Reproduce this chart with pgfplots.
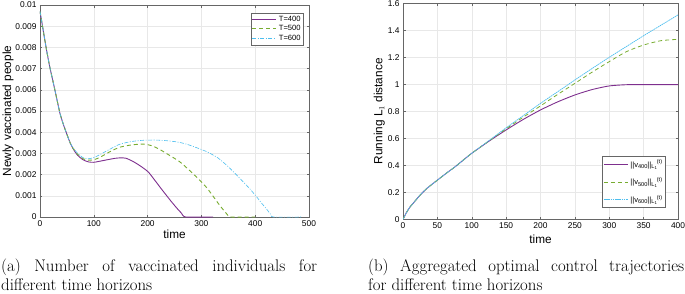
\documentclass[border=0pt]{standalone}
\usepackage{fontspec}
\newfontfamily\arial{Liberation Sans}
\usepackage{pgfplots}
\pgfplotsset{compat=1.18}
\definecolor{mpurple}{HTML}{7E2F8E}
\definecolor{mgreen}{HTML}{77AC30}
\definecolor{mcyan}{HTML}{4DBEEE}
\newcommand\sbs[1]{\raisebox{-0.35ex}{\fontsize{5.6}{6}\selectfont #1}}
\newcommand\sbss[1]{\raisebox{-0.3ex}{\fontsize{4.2}{5}\selectfont #1}}
\newcommand\sps[1]{\raisebox{0.8ex}{\fontsize{5.6}{6}\selectfont #1}}
\newcommand\nrm[1]{\textbar\textbar v\sbs{#1}\textbar\textbar\sbs{L\sbss{1}}\sps{(t)}}
\pgfplotsset{
  mstyle/.style={
    scale only axis,
    axis line style={draw=black!60, line width=0.5pt},
    tick style={draw=black!60, line width=0.5pt},
    major tick length=2.5pt,
    tick align=inside,
    grid=major,
    grid style={draw=black!9, line width=0.5pt},
    /pgf/number format/assume math mode=true,
    tick label style={font=\arial\fontsize{8.4}{10}\selectfont},
    label style={font=\arial\fontsize{11.8}{13}\selectfont},
    scaled y ticks=false,
    yticklabel style={/pgf/number format/fixed, /pgf/number format/precision=3},
    legend cell align=left,
    legend style={draw=black!60, line width=0.5pt, inner sep=1pt},
    legend image code/.code={\draw[##1] (0pt,0pt) -- (24pt,0pt);},
  }
}
\begin{document}
\begin{tikzpicture}[x=1pt,y=1pt]
\useasboundingbox (0,0) rectangle (685,293);
% ---------- left panel ----------
\begin{axis}[mstyle,
  at={(40pt,76pt)}, anchor=south west,
  width=269pt, height=212pt,
  xmin=0, xmax=500, ymin=0, ymax=0.01,
  xtick={0,100,...,500},
  ytick={0,0.001,0.002,0.003,0.004,0.005,0.006,0.007,0.008,0.009,0.01},
  xlabel={time}, ylabel={Newly vaccinated people},
  ylabel style={yshift=-5pt},
  xlabel style={yshift=3pt},
  legend style={at={(0.981,0.964)}, anchor=north east,
    font=\arial\fontsize{7.6}{8.5}\selectfont, row sep=-1.2pt},
]
\addplot[mpurple, line width=0.9pt, smooth, tension=0.4] coordinates {
(0,0.0097) (6,0.0088) (12,0.0079) (18,0.0071) (25,0.0063) (31,0.0056)
(37,0.0049) (43,0.0044) (50,0.0039) (56,0.0035) (62,0.0032) (70,0.00291)
(80,0.00270) (90,0.00260) (100,0.00258) (111,0.00263) (125,0.00270)
(140,0.00277) (150,0.00279) (160,0.00277) (173,0.00262) (187,0.00240)
(201,0.00213) (212,0.00178) (223,0.00141) (235,0.00102) (245,0.00070)
(255,0.00040) (263,0.00018) (271,0) (322,0)};
\addlegendentry{T=400}
\addplot[mgreen, line width=0.9pt, dash pattern=on 4pt off 3pt, smooth, tension=0.4] coordinates {
(0,0.0097) (6,0.0088) (12,0.0079) (18,0.0071) (25,0.0063) (31,0.0056)
(37,0.0049) (43,0.0044) (50,0.0039) (56,0.0035) (62,0.00322) (70,0.00296)
(80,0.00275) (90,0.00268) (100,0.00270) (111,0.00281) (130,0.00308)
(148,0.00329) (170,0.00340) (192,0.00344) (208,0.00336) (223,0.00318)
(240,0.00292) (260,0.00260) (280,0.00215) (297,0.00173) (310,0.00138)
(322,0.00097) (332,0.00062) (341,0.00033) (348,0.00012) (355,0) (400,0)};
\addlegendentry{T=500}
\addplot[mcyan, line width=0.6pt, dash pattern=on 4pt off 1.5pt on 1pt off 1.5pt, smooth, tension=0.4] coordinates {
(0,0.0097) (6,0.0088) (12,0.0079) (18,0.0071) (25,0.0063) (31,0.0056)
(37,0.0049) (43,0.0044) (50,0.0039) (56,0.0035) (62,0.00325) (70,0.00300)
(80,0.00280) (90,0.00275) (100,0.00280) (111,0.00294) (130,0.00320)
(148,0.00343) (170,0.00356) (192,0.00362) (215,0.00363) (235,0.00360)
(255,0.00354) (272,0.00344) (290,0.00328) (310,0.00308) (330,0.00280)
(347,0.00244) (362,0.00207) (378,0.00165) (391,0.00130) (403,0.00094)
(412,0.00065) (421,0.00038) (428,0.00015) (434,0) (486,0)};
\addlegendentry{T=600}
\end{axis}
% ---------- right panel ----------
\begin{axis}[mstyle,
  at={(403pt,73.7pt)}, anchor=south west,
  width=275pt, height=216pt,
  xmin=0, xmax=400, ymin=0, ymax=1.6,
  xtick={0,50,...,400},
  ytick={0,0.2,0.4,0.6,0.8,1,1.2,1.4,1.6},
  xlabel={time}, ylabel={Running L$_1$ distance},
  ylabel style={yshift=-4pt},
  xlabel style={yshift=1pt},
  legend style={at={(0.956,0.293)}, anchor=north east,
    font=\arial\fontsize{7.6}{8.5}\selectfont, row sep=5pt, inner sep=1.5pt},
]
\addplot[mpurple, line width=0.9pt, smooth, tension=0.4] coordinates {
(0,0) (2,0.02) (5,0.05) (10,0.09) (15,0.12) (25,0.18) (35,0.23) (50,0.29)
(64,0.345) (76,0.39) (88,0.44) (100,0.489) (124,0.575) (150,0.662)
(175,0.74) (200,0.81) (225,0.87) (250,0.921) (275,0.961) (300,0.988)
(325,0.997) (350,0.998) (400,0.998)};
\addlegendentry{\nrm{400}}
\addplot[mgreen, line width=0.8pt, dash pattern=on 4pt off 3pt, smooth, tension=0.4] coordinates {
(0,0) (2,0.02) (5,0.05) (10,0.09) (15,0.12) (25,0.18) (35,0.23) (50,0.29)
(64,0.345) (76,0.39) (88,0.44) (100,0.489) (124,0.577) (150,0.670)
(175,0.757) (200,0.84) (225,0.925) (250,1.007) (275,1.09) (300,1.168)
(325,1.242) (350,1.291) (375,1.323) (400,1.333)};
\addlegendentry{\nrm{500}}
\addplot[mcyan, line width=0.7pt, dash pattern=on 1.6pt off 0.6pt, smooth, tension=0.4] coordinates {
(0,0) (2,0.02) (5,0.05) (10,0.09) (15,0.12) (25,0.18) (35,0.23) (50,0.29)
(64,0.345) (76,0.39) (88,0.44) (100,0.489) (124,0.579) (150,0.678)
(175,0.768) (200,0.859) (225,0.945) (250,1.032) (275,1.117) (300,1.2)
(325,1.28) (350,1.36) (375,1.437) (400,1.514)};
\addlegendentry{\nrm{600}}
\end{axis}
% ---------- captions ----------
\begin{scope}[every node/.style={inner sep=0pt, font=\fontsize{16.8}{20}\selectfont}]
\node[anchor=base west] at (1,22) {\makebox[316pt][s]{(a) Number of vaccinated individuals for}};
\node[anchor=base west] at (1,3) {different time horizons};
\node[anchor=base west] at (368,22) {\makebox[316pt][s]{(b) Aggregated optimal control trajectories}};
\node[anchor=base west] at (368,3) {for different time horizons};
\end{scope}
\end{tikzpicture}
\end{document}
